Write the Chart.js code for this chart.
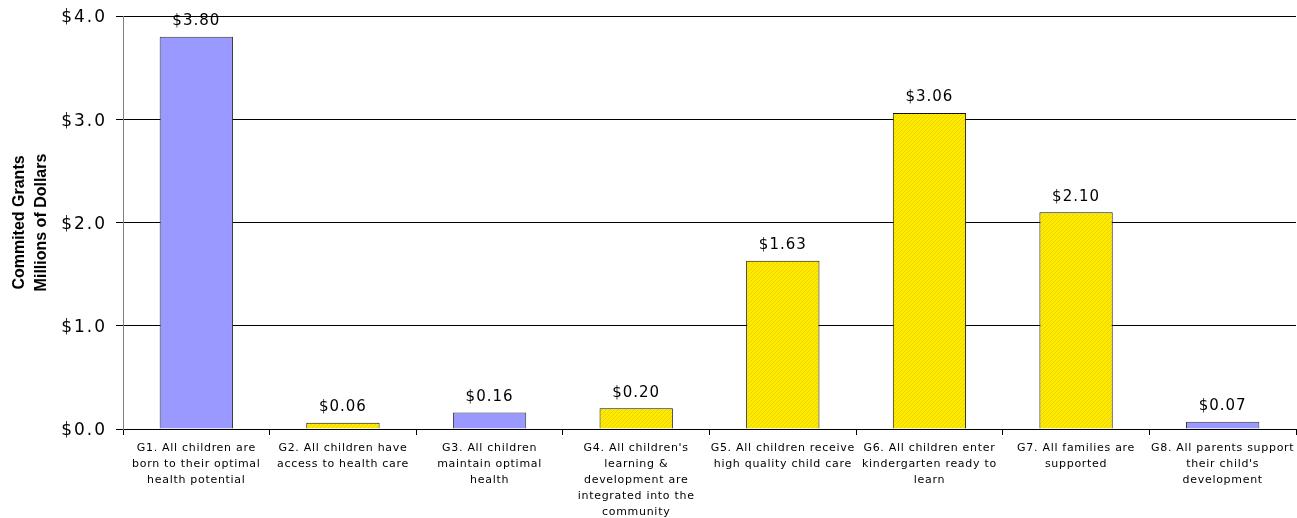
<!DOCTYPE html>
<html>
<head>
<meta charset="utf-8">
<script src="https://cdn.jsdelivr.net/npm/chart.js@4.4.1/dist/chart.umd.min.js"></script>
<style>
  html, body { margin: 0; padding: 0; background: #fff; }
  #wrap { width: 1297px; height: 518px; position: relative; }
</style>
</head>
<body>
<div id="wrap"><canvas id="c" width="1297" height="518"></canvas></div>
<script>
const categories = [
  ["G1. All children are", "born to their optimal", "health potential"],
  ["G2. All children have", "access to health care"],
  ["G3. All children", "maintain optimal", "health"],
  ["G4. All children's", "learning &", "development are", "integrated into the", "community"],
  ["G5. All children receive", "high quality child care"],
  ["G6. All children enter", "kindergarten ready to", "learn"],
  ["G7. All families are", "supported"],
  ["G8. All parents support", "their child's", "development"]
];
const grantValues = [3.80, 0.06, 0.16, 0.20, 1.63, 3.06, 2.10, 0.07];
const barGroups = ["purple", "yellow", "purple", "yellow", "yellow", "yellow", "yellow", "purple"];
const yTitleLines = ["Commited Grants", "Millions of Dollars"];

function makeYellowPattern() {
  const p = document.createElement('canvas');
  p.width = 4; p.height = 4;
  const g = p.getContext('2d');
  g.fillStyle = '#FFEA00';
  g.fillRect(0, 0, 4, 4);
  g.fillStyle = '#E8D400';
  for (let i = 0; i < 4; i++) g.fillRect(i, 3 - i, 1, 1);
  return g.createPattern(p, 'repeat');
}
const ctx = document.getElementById('c').getContext('2d');
const yellow = makeYellowPattern();
const fills = barGroups.map(g => g === 'purple' ? '#9999FF' : yellow);
const borders = barGroups.map(g => g === 'purple' ? '#333333' : '#111100');

const spacingPatch = {
  id: 'spacingPatch',
  afterLayout(chart) {
    const spacing = { x: '0.7px', y: '2px' };
    Object.keys(spacing).forEach(id => {
      const s = chart.scales[id];
      if (!s || s._patched) return;
      const orig = s.drawLabels;
      s.drawLabels = function (area) {
        const c = this.ctx;
        const prev = c.letterSpacing;
        c.letterSpacing = spacing[id];
        orig.call(this, area);
        c.letterSpacing = prev || '0px';
      };
      s._patched = true;
    });
  }
};

const yTitle = {
  id: 'yTitle',
  afterDraw(chart) {
    const c = chart.ctx;
    const cy = (chart.chartArea.top + chart.chartArea.bottom) / 2;
    c.save();
    c.font = 'bold 16px "Liberation Sans", Arial, sans-serif';
    c.fillStyle = '#000';
    c.textAlign = 'center';
    c.textBaseline = 'middle';
    const xs = [20, 42];
    yTitleLines.forEach((t, i) => {
      c.save();
      c.translate(xs[i], cy);
      c.rotate(-Math.PI / 2);
      c.fillText(t, 0, 0);
      c.restore();
    });
    c.restore();
  }
};

const valueLabels = {
  id: 'valueLabels',
  afterDatasetsDraw(chart) {
    const c = chart.ctx;
    const meta = chart.getDatasetMeta(0);
    c.save();
    c.font = '15px "DejaVu Sans", sans-serif';
    c.letterSpacing = '1px';
    c.fillStyle = '#000';
    c.textAlign = 'center';
    c.textBaseline = 'bottom';
    meta.data.forEach((bar, i) => {
      c.fillText('$' + grantValues[i].toFixed(2), bar.x, bar.y - 8);
    });
    c.letterSpacing = '0px';
    c.restore();
  }
};

new Chart(ctx, {
  type: 'bar',
  data: {
    labels: categories,
    datasets: [{
      data: grantValues,
      backgroundColor: fills,
      borderColor: borders,
      borderWidth: 1,
      categoryPercentage: 1.0,
      barPercentage: 0.5
    }]
  },
  options: {
    responsive: false,
    animation: false,
    layout: { padding: { top: 16, right: 1, left: 0, bottom: 0 } },
    plugins: { legend: { display: false }, tooltip: { enabled: false } },
    scales: {
      x: {
        offset: true,
        grid: { display: true, drawOnChartArea: false, drawTicks: true, tickLength: 6, color: '#000', offset: true },
        border: { display: true, color: '#000', width: 1 },
        ticks: {
          autoSkip: false, maxRotation: 0, minRotation: 0,
          color: '#000', padding: 5,
          font: { family: '"DejaVu Sans", sans-serif', size: 11, lineHeight: 1.45 }
        },
        afterFit(scale) { scale.height = 89; scale.paddingLeft = 0; scale.paddingRight = 0; }
      },
      y: {
        min: 0, max: 4,
        ticks: {
          stepSize: 1, color: '#000', padding: 9, labelOffset: 2,
          font: { family: '"DejaVu Sans", sans-serif', size: 17 },
          callback: v => '$' + Number(v).toFixed(1)
        },
        grid: { color: '#000', lineWidth: 1, tickLength: 7, drawTicks: true },
        border: { display: true, color: '#808080', width: 1 },
        title: { display: false },
        afterFit(scale) { scale.width = 123; scale.paddingTop = 0; scale.paddingBottom = 0; }
      }
    }
  },
  plugins: [spacingPatch, valueLabels, yTitle]
});
</script>
</body>
</html>
